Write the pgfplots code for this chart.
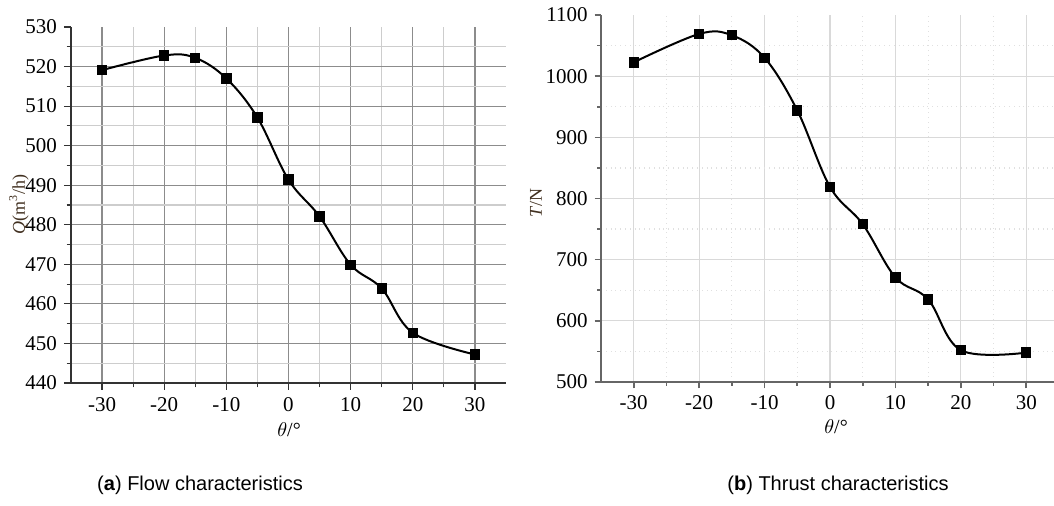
\documentclass[border=0pt]{standalone}
\usepackage{fontspec}
\setmainfont{Liberation Serif}
\newfontfamily\capfont{Liberation Sans}
\usepackage{pgfplots}
\pgfplotsset{compat=1.18}

\definecolor{majgrid}{RGB}{140,140,140}
\definecolor{mingrid}{RGB}{205,205,205}
\definecolor{labbrown}{RGB}{65,48,32}

\begin{document}
\begin{tikzpicture}
\useasboundingbox (0,0) rectangle (527pt,-253pt);

% (a) flow
\begin{axis}[at={(35.5pt,-191.5pt)}, anchor=south west, scale only axis,
  width=217.5pt, height=178pt,
  xmin=-35, xmax=35, ymin=440, ymax=530,
  axis x line=bottom, axis y line=left, axis line style={-, black!80, line width=0.7pt},
  xtick={-30,-20,...,30}, minor xtick={-25,-15,...,25},
  ytick={440,450,...,520}, minor ytick={445,455,...,525},
  extra y ticks={530}, extra tick style={grid=none},
  tick align=outside, major tick length=3.5pt, minor tick length=2.2pt,
  tick style={black!80, line width=0.6pt},
  grid=both, major grid style={majgrid, line width=0.6pt}, minor grid style={mingrid, line width=0.6pt},
  ticklabel style={font=\fontsize{10.5}{11}\selectfont},
  /pgf/number format/assume math mode=true,
  /pgf/number format/1000 sep={},
  clip=false]
\addplot[black, line width=1pt, smooth, tension=0.6, mark=square*, mark size=2.1pt] coordinates {
  (-30,519.1) (-20,522.8) (-15,522.2) (-10,517.0) (-5,507.1) (0,491.4)
  (5,482.1) (10,469.9) (15,463.9) (20,452.7) (30,447.2)};
\end{axis}

% (b) thrust
\begin{axis}[at={(300.5pt,-191pt)}, anchor=south west, scale only axis,
  width=229pt, height=183.5pt,
  xmin=-35, xmax=35, ymin=500, ymax=1100,
  axis x line=bottom, axis y line=left, axis line style={-, black!60, line width=0.9pt},
  xtick={-30,-20,...,30}, minor xtick={-25,-15,...,25},
  ytick={500,600,...,1000}, minor ytick={550,650,...,1050},
  extra y ticks={1100}, extra tick style={grid=none},
  tick align=outside, major tick length=3.2pt, minor tick length=1.8pt,
  tick style={black!60, line width=0.8pt},
  grid=both, major grid style={black!15, line width=0.6pt}, minor grid style={black!12, dotted, line width=0.6pt},
  ticklabel style={font=\fontsize{10.5}{11}\selectfont},
  /pgf/number format/assume math mode=true,
  /pgf/number format/1000 sep={},
  clip=false]
\addplot[black, line width=1pt, smooth, tension=0.6, mark=square*, mark size=2.1pt] coordinates {
  (-30,1022.6) (-20,1069) (-15,1066.8) (-10,1030) (-5,944) (0,819)
  (5,758) (10,671) (15,635) (20,552) (30,548)};
\end{axis}

% axis titles
\node[rotate=90, text=labbrown, font=\fontsize{9}{10}\selectfont] at (9.5pt,-102.5pt) {\textit{Q}(m\textsuperscript{3}/h)};
\node[rotate=90, text=labbrown, font=\fontsize{9}{10}\selectfont] at (268pt,-101.5pt) {\textit{T}/N};
\node[font=\fontsize{10}{11}\selectfont] at (144.5pt,-215pt) {$\theta$/°};
\node[font=\fontsize{10}{11}\selectfont] at (418pt,-213.5pt) {$\theta$/°};

% captions
\node[font=\capfont\fontsize{10}{12}\selectfont] at (100pt,-242.5pt) {(\textbf{a}) Flow characteristics};
\node[font=\capfont\fontsize{10}{12}\selectfont] at (419pt,-242.5pt) {(\textbf{b}) Thrust characteristics};
\end{tikzpicture}
\end{document}
